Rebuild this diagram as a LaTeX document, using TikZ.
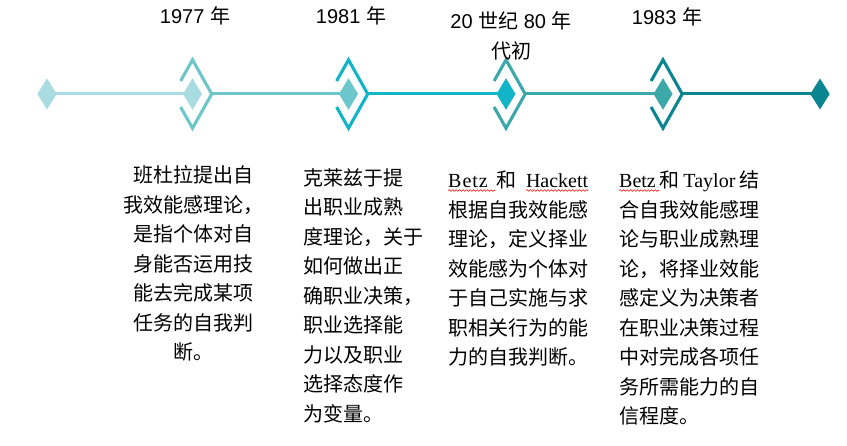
\documentclass[tikz,border=0pt]{standalone}
\usepackage{fontspec}
\setmainfont{Liberation Serif}
\newfontfamily\cjk{Noto Sans CJK SC}
\newfontfamily\lat{Liberation Serif}
\newfontfamily\arial{Liberation Sans}
\usetikzlibrary{decorations.pathmorphing}
\definecolor{ca}{HTML}{A8DCE0}
\definecolor{cb}{HTML}{6DC7CA}
\definecolor{cc}{HTML}{12B4C8}
\definecolor{cd}{HTML}{3DA8AA}
\definecolor{ce}{HTML}{0B8691}
% inner diamond at a coordinate
\newcommand\tldiamond[2]{%
  \fill[#2, shift={(#1)}] (-9.5,0) -- (0,-15.8) -- (9.5,0) -- (0,15.8) -- cycle;}
% chevron (diamond open on the left)
\newcommand\tlchevron[2]{%
  \draw[chev, #2, shift={(#1)}] (-11.9,-13) -- (0,-34.2) -- (19.2,0) -- (0,34.2) -- (-11.9,13);}
\begin{document}
\begin{tikzpicture}[x=1pt,y=-1pt,
  seg/.style={line width=3pt},
  chev/.style={line width=3.1pt, line join=miter, miter limit=10},
  body/.style={inner sep=0pt, anchor=base west, font=\cjk\fontsize{20}{29.5}\selectfont},
  yearlbl/.style={inner sep=0pt, anchor=base, font=\arial\fontsize{20}{29.5}\selectfont},
  wavy/.style={red, line width=0.6pt, decorate, decoration={snake, amplitude=0.8pt, segment length=3.5pt}}]
\useasboundingbox (0,0) rectangle (847,446);
% timeline anchors
\coordinate (e0) at (47,94);
\coordinate (m1) at (192.5,94);
\coordinate (m2) at (348.5,94);
\coordinate (m3) at (506,94);
\coordinate (m4) at (663,94);
\coordinate (e5) at (820,94);
\coordinate (m1r) at (211.7,94);
\coordinate (m2r) at (367.7,94);
\coordinate (m3r) at (525.2,94);
\coordinate (m4r) at (682.2,94);
% segments
\draw[seg, ca] (e0) -- (m1);
\draw[seg, cb] (m1r) -- (m2);
\draw[seg, cc] (m2r) -- (m3);
\draw[seg, cd] (m3r) -- (m4);
\draw[seg, ce] (m4r) -- (e5);
% end diamonds
\fill[ca, shift={(e0)}] (-9.7,0) -- (0,-15.5) -- (9.7,0) -- (0,15.5) -- cycle;
\fill[ce, shift={(e5)}] (-9.7,0) -- (0,-15.5) -- (9.7,0) -- (0,15.5) -- cycle;
% markers
\tldiamond{m1}{ca}\tlchevron{m1}{cb}
\tldiamond{m2}{cb}\tlchevron{m2}{cc}
\tldiamond{m3}{cc}\tlchevron{m3}{cd}
\tldiamond{m4}{cd}\tlchevron{m4}{ce}
% year labels
\node[yearlbl] (y1) at (195,24) {1977 {\cjk 年}};
\node[yearlbl] (y2) at (351,24) {1981 {\cjk 年}};
\node[yearlbl] (y3) at (511,28.8) {20 {\cjk 世纪} 80 {\cjk 年}};
\node[yearlbl] (y3b) at (511,58.3) {\cjk 代初};
\node[yearlbl] (y4) at (667,25) {1983 {\cjk 年}};
% descriptions
\node[body, anchor=base] (t1) at (193,182.6) {\parbox[t]{150pt}{\centering
班杜拉提出自\\我效能感理论，\\是指个体对自\\身能否运用技\\能去完成某项\\任务的自我判\\断。}};
\node[body] (t2) at (303,185.1) {\parbox[t]{150pt}{\raggedright
克莱兹于提\\出职业成熟\\度理论，关于\\如何做出正\\确职业决策，\\职业选择能\\力以及职业\\选择态度作\\为变量。}};
\node[body] (t3) at (448,187.6) {\parbox[t]{150pt}{\raggedright
\leavevmode\hbox to 140pt{{\lat\addfontfeature{LetterSpace=5}Betz}\hfill 和\hfill{\lat Hackett}}\\
根据自我效能感\\理论，定义择业\\效能感为个体对\\于自己实施与求\\职相关行为的能\\力的自我判断。}};
\node[body] (t4) at (619,187.6) {\parbox[t]{150pt}{\raggedright
\leavevmode\hbox to 140pt{{\lat Betz}\hfill 和\hfill{\lat Taylor}\hfill 结}\\
合自我效能感理\\论与职业成熟理\\论，将择业效能\\感定义为决策者\\在职业决策过程\\中对完成各项任\\务所需能力的自\\信程度。}};
% spell-check underlines
\draw[wavy] (448,190.5) -- (495,190.5);
\draw[wavy] (526,190.5) -- (588,190.5);
\draw[wavy] (619,190.5) -- (659,190.5);
\end{tikzpicture}
\end{document}
